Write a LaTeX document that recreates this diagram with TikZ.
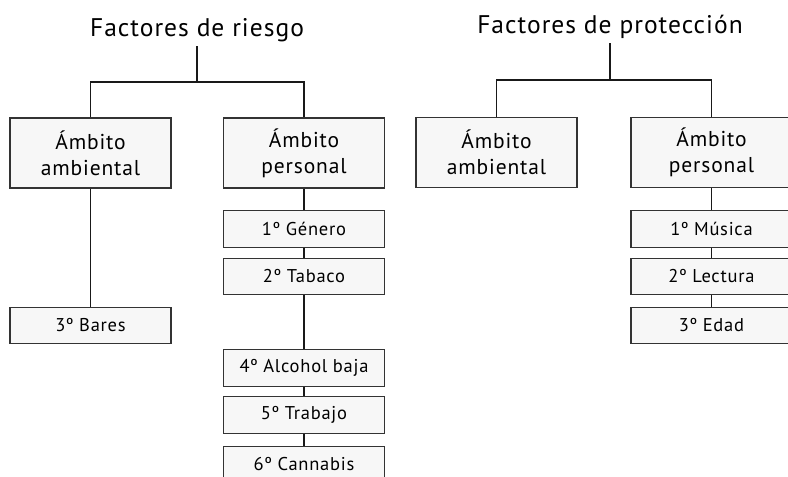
\documentclass[tikz,border=0pt]{standalone}
\usepackage{fontspec}
\setmainfont{PT Sans}[LetterSpace=4]
\definecolor{boxfill}{HTML}{F7F7F7}
\definecolor{boxline}{HTML}{333333}
\begin{document}
\begin{tikzpicture}[x=1pt,y=-1pt,
  conn/.style={draw=black!90, line width=1.4pt},
  bigbox/.style={draw=boxline, fill=boxfill, line width=1.2pt, minimum width=161pt, minimum height=70pt, inner sep=0pt, align=center, font=\fontsize{21.5}{26}\selectfont},
  smallbox/.style={draw=boxline, fill=boxfill, line width=1.2pt, minimum width=161pt, minimum height=36.5pt, inner sep=0pt, align=center, font=\fontsize{18.5}{22}\selectfont},
  titlenode/.style={anchor=base, inner sep=0pt, font=\fontsize{25.5}{30}\selectfont}]
\clip (0,0) rectangle (788,477);
\useasboundingbox (0,0) rectangle (788,477);
\fill[white] (0,0) rectangle (788,477);
% Factores de riesgo
\node[titlenode] (rt) at (197,36) {Factores de riesgo};
\coordinate (rtl) at (197,46);
\coordinate (jr) at (197,82);
\node[bigbox] (ra) at (90.5,153) {Ámbito\\ambiental};
\node[bigbox] (rp) at (304,153) {Ámbito\\personal};
\node[smallbox] (bares) at (90.5,325.5) {3º Bares};
\node[smallbox] (g1) at (304,229) {1º Género};
\node[smallbox] (g2) at (304,276.5) {2º Tabaco};
\node[smallbox] (g4) at (304,368) {4º Alcohol baja};
\node[smallbox] (g5) at (304,415) {5º Trabajo};
\node[smallbox] (g6) at (304,464.5) {6º Cannabis};
\draw[conn] (rtl) -- (jr);
\draw[conn] (ra.north) |- (jr) -| (rp.north);
\draw[conn] (ra.south) -- (bares.north);
\draw[conn] (rp.south) -- (g1.north);
\draw[conn] (g1.south) -- (g2.north);
\draw[conn] (g2.south) -- (g4.north);
\draw[conn] (g4.south) -- (g5.north);
\draw[conn] (g5.south) -- (g6.north);
% Factores de proteccion
\node[titlenode] (pt) at (610,33) {Factores de protección};
\coordinate (ptl) at (610,43);
\coordinate (jp) at (610,80);
\node[bigbox] (pa) at (496.5,152.5) {Ámbito\\ambiental};
\node[bigbox] (pp) at (711.5,152.5) {Ámbito\\personal};
\node[smallbox] (m1) at (711.5,229) {1º Música};
\node[smallbox] (m2) at (711.5,276.5) {2º Lectura};
\node[smallbox] (m3) at (711.5,325.5) {3º Edad};
\draw[conn] (ptl) -- (jp);
\draw[conn] (pa.north) |- (jp) -| (pp.north);
\draw[conn] (pp.south) -- (m1.north);
\draw[conn] (m1.south) -- (m2.north);
\draw[conn] (m2.south) -- (m3.north);
\end{tikzpicture}
\end{document}
